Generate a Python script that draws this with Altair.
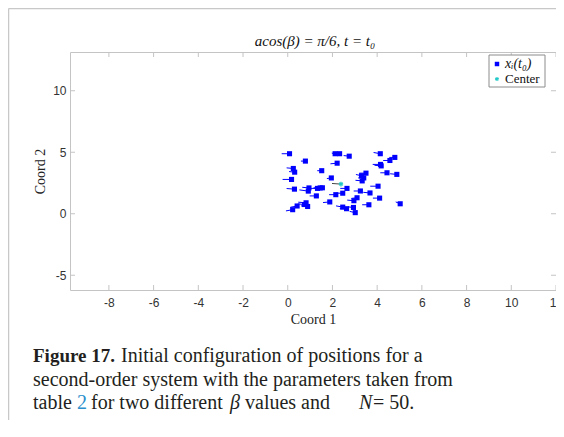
import altair as alt
import pandas as pd

# agent positions x_i(t0)
pos_x = [0.08, 0.79, 2.12, 2.32, 2.75, 4.14, 4.79, 4.57, 4.15, 2.21,
         0.25, 0.31, 1.52, 4.44, 4.88, 3.50, 3.30, 1.95, 0.17, 3.33,
         4.04, 2.65, 0.95, 1.33, 1.55, 0.30, 0.92, 3.25, 3.68, 1.28,
         2.46, 2.15, 3.10, 4.11, 1.88, 2.96, 0.82, 3.63, 5.03, 0.42,
         0.89, 2.46, 2.63, 2.94, 0.22, 3.02, 4.18, 0.75, 3.40, 1.45]
pos_y = [4.88, 4.28, 4.88, 4.88, 4.68, 4.88, 4.58, 4.33, 4.01, 4.11,
         3.68, 3.38, 3.50, 3.33, 3.20, 3.30, 3.09, 2.91, 2.79, 2.67,
         2.24, 2.06, 2.10, 2.06, 2.11, 2.00, 1.84, 1.85, 1.69, 1.45,
         1.67, 1.55, 1.30, 1.27, 0.96, 1.06, 0.89, 0.73, 0.81, 0.63,
         0.59, 0.54, 0.41, 0.51, 0.33, 0.09, 3.89, 0.75, 2.91, 2.10]
# initial velocity tails
vel_x = [-0.35, -0.20, -0.15, -0.30, -0.25, -0.30, -0.25, -0.30, -0.35, -0.30,
         -0.30, -0.25, -0.20, -0.30, -0.30, -0.30, -0.25, -0.20, -0.40, -0.30,
         -0.35, -0.30, -0.30, -0.30, -0.35, -0.35, -0.40, -0.30, -0.30, -0.30,
         -0.30, -0.30, -0.25, -0.30, -0.30, -0.30, -0.35, -0.30, -0.20, -0.30,
         -0.30, -0.30, -0.30, -0.25, -0.30, -0.25, -0.30, -0.30, -0.25, -0.30]
vel_y = [0.00, 0.00, 0.05, 0.00, 0.05, 0.10, 0.00, 0.00, 0.00, -0.05,
         0.05, 0.05, 0.00, 0.00, 0.05, 0.00, 0.10, -0.05, 0.00, 0.05,
         0.00, 0.00, 0.05, 0.00, 0.00, 0.05, 0.10, 0.00, 0.05, 0.00,
         0.00, 0.00, -0.05, 0.00, -0.05, 0.05, 0.05, 0.00, 0.15, -0.10,
         0.05, 0.10, 0.00, 0.05, -0.10, 0.10, 0.05, 0.05, 0.00, 0.00]
center_x = [2.38]
center_y = [2.41]
center_vx = [-0.40]
center_vy = [0.05]

x_ticks = [-8, -6, -4, -2, 0, 2, 4, 6, 8, 10, 12]
y_ticks = [-5, 0, 5, 10]

W, H = 486, 238
SERIF = "Liberation Serif"
SANS = "Liberation Sans"
xs = alt.Scale(domain=[-9.74, 12], nice=False, zero=False)
ys = alt.Scale(domain=[-6.2, 13.15], nice=False, zero=False)

df = pd.DataFrame({
    "x": pos_x, "y": pos_y,
    "xe": [a + b for a, b in zip(pos_x, vel_x)],
    "ye": [a + b for a, b in zip(pos_y, vel_y)],
})
dc = pd.DataFrame({
    "x": center_x, "y": center_y,
    "xe": [a + b for a, b in zip(center_x, center_vx)],
    "ye": [a + b for a, b in zip(center_y, center_vy)],
})
dxt = pd.DataFrame({"x": x_ticks})
dyt = pd.DataFrame({"y": y_ticks})

BLUE = "#0000ff"
CYAN = "#20c8c8"
GRID = "#c4c4c4"
ASTER = "M0,-1L0,1M-0.87,-0.5L0.87,0.5M-0.87,0.5L0.87,-0.5"

x_axis = alt.Axis(values=x_ticks, title="Coord 1", ticks=False, domain=False, grid=False,
                  labelFont=SANS, labelFontSize=12, labelColor="#333333",
                  labelExpr="'' + datum.value",
                  labelPadding=7, labelFlush=False, labelOverlap=False,
                  titleFont=SERIF, titleFontSize=14, titleFontWeight="normal",
                  titleColor="#222222", titlePadding=4)
y_axis = alt.Axis(values=y_ticks, title="Coord 2", ticks=False, domain=False, grid=False,
                  labelFont=SANS, labelFontSize=12, labelColor="#333333",
                  labelExpr="'' + datum.value",
                  labelPadding=4, labelFlush=False, labelOverlap=False,
                  titleFont=SERIF, titleFontSize=14, titleFontWeight="normal",
                  titleColor="#222222", titlePadding=5)

X = alt.X("x:Q", scale=xs, axis=x_axis)
Y = alt.Y("y:Q", scale=ys, axis=y_axis)

tails = alt.Chart(df).mark_rule(color=BLUE, strokeWidth=1).encode(
    x=X, y=Y, x2="xe:Q", y2="ye:Q")
points = alt.Chart(df).mark_square(size=26, color=BLUE, opacity=1).encode(x=X, y=Y)
ctail = alt.Chart(dc).mark_rule(color="#444444", strokeWidth=1).encode(
    x=X, y=Y, x2="xe:Q", y2="ye:Q")
center = alt.Chart(dc).mark_point(shape=ASTER, size=22, color=CYAN, filled=False,
                                  strokeWidth=1.3, opacity=1).encode(x=X, y=Y)

tick_b = alt.Chart(dxt).mark_rule(color=GRID).encode(
    x=X, y=alt.value(H), y2=alt.value(H - 5))
tick_t = alt.Chart(dxt).mark_rule(color=GRID).encode(
    x=X, y=alt.value(0), y2=alt.value(5))
tick_l = alt.Chart(dyt).mark_rule(color=GRID).encode(
    y=Y, x=alt.value(0), x2=alt.value(5))
tick_r = alt.Chart(dyt).mark_rule(color=GRID).encode(
    y=Y, x=alt.value(W), x2=alt.value(W - 5))

# legend
LX = 419
leg_box = alt.Chart().mark_rect(fill="white", stroke="#8c8c8c", strokeWidth=1).encode(
    x=alt.value(LX), x2=alt.value(LX + 56), y=alt.value(3), y2=alt.value(35))
leg_sq = alt.Chart().mark_square(size=20, color=BLUE, opacity=1).encode(
    x=alt.value(LX + 8), y=alt.value(12))
leg_st = alt.Chart().mark_point(shape=ASTER, size=18, color=CYAN, filled=False,
                                strokeWidth=1.2, opacity=1).encode(
    x=alt.value(LX + 8), y=alt.value(27))
leg_t1 = alt.Chart().mark_text(text="xᵢ(t₀)", font=SERIF, fontStyle="italic", fontSize=14,
                               align="left", baseline="middle", color="#111111").encode(
    x=alt.value(LX + 16), y=alt.value(12))
leg_t2 = alt.Chart().mark_text(text="Center", font=SERIF, fontSize=13,
                               align="left", baseline="middle", color="#111111").encode(
    x=alt.value(LX + 16), y=alt.value(27))

title = alt.Chart().mark_text(text="acos(β) = π/6, t = t₀", font=SERIF, fontStyle="italic",
                              fontSize=15, align="center", baseline="alphabetic",
                              color="#111111").encode(x=alt.value(245), y=alt.value(-6))

# page frame
frame_l = alt.Chart().mark_rule(color="#c8c8c8", strokeWidth=1.5).encode(
    x=alt.value(-61.5), y=alt.value(-43.5), y2=alt.value(400))
frame_t = alt.Chart().mark_rule(color="#c8c8c8", strokeWidth=1.5).encode(
    x=alt.value(-61.5), x2=alt.value(500), y=alt.value(-43.5))

# caption
CAP = "#231f20"
def cap(text, x, y, weight="normal", style="normal", color=CAP, size=20):
    return alt.Chart().mark_text(text=text, font=SERIF, fontSize=size, fontWeight=weight,
                                 fontStyle=style, align="left", baseline="alphabetic",
                                 color=color).encode(x=alt.value(x), y=alt.value(y))

caption = [
    cap("Figure 17.", -37, 310, weight="bold", size=19),
    cap("Initial configuration of positions for a", 51, 310),
    cap("second-order system with the parameters taken from", -37, 334),
    cap("table", -37, 357),
    cap("2", 7, 357, color="#2a8fcc"),
    cap("for two different", 21, 357),
    cap("β", 160, 357, style="italic"),
    cap("values and", 175, 357),
    cap("N", 289, 357, style="italic"),
    cap("= 50.", 303, 357),
]

chart = alt.layer(
    frame_l, frame_t, tails, ctail, points, center,
    tick_b, tick_t, tick_l, tick_r,
    leg_box, leg_sq, leg_st, leg_t1, leg_t2, title, *caption
).properties(
    width=W, height=H,
    autosize=alt.AutoSizeParams(type="none"),
    padding={"left": 62, "top": 44, "right": 0, "bottom": 130},
).configure_view(stroke=GRID, strokeWidth=1)

chart.save("out.html", embed_options={"renderer": "svg", "actions": False})
